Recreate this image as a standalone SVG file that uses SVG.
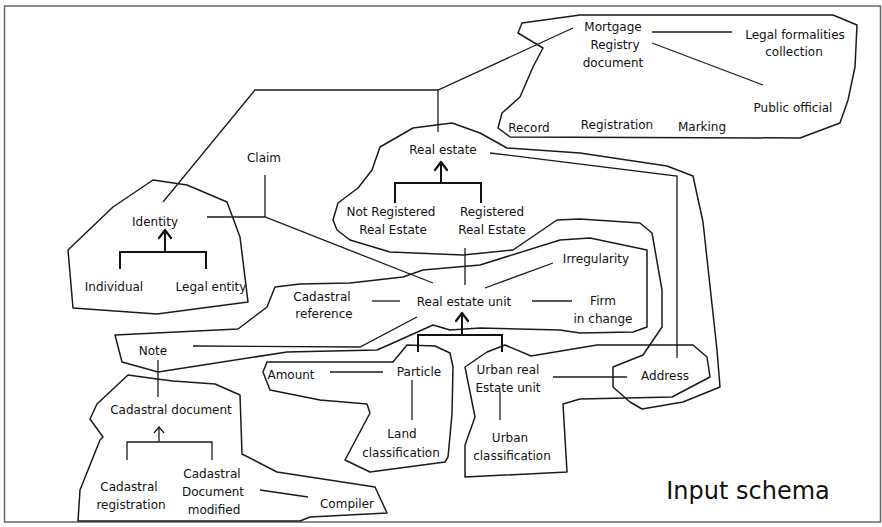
<svg xmlns="http://www.w3.org/2000/svg" width="882" height="527" viewBox="0 0 882 527">
  <style>
    .t { font-family: "DejaVu Sans", "Liberation Sans", sans-serif; font-size: 12px; fill: #111; text-anchor: middle; }
    .big { font-size: 24px; }
    .area { fill: none; stroke: #1a1a1a; stroke-width: 1.5; stroke-linejoin: round; }
    .ln { fill: none; stroke: #1a1a1a; stroke-width: 1.3; }
    .tree { fill: none; stroke: #111; stroke-width: 2; }
    .head { fill: none; stroke: #111; stroke-width: 2.2; stroke-linecap: round; stroke-linejoin: round; }
  </style>
  <rect x="0" y="0" width="882" height="527" fill="#fff"/>
  <rect x="4.5" y="6" width="876" height="516" fill="none" stroke="#666" stroke-width="1.5"/>

  <!-- grouping outlines -->
  <g id="areas">
    <polygon id="area-mortgage" class="area" points="522,23 518,33 543,48 533,67 520,97 502,113 498,128 510,137 800,138 840,123 848,100 855,67 857,25 833,15 580,15"/>
    <polygon id="area-real-estate" class="area" points="380,147 413,128 452,123 480,133 507,148 580,153 667,166 693,176 703,222 717,350 720,387 683,402 642,409 630,402 613,387 613,367 643,355 662,327 662,290 652,233 640,223 580,219 557,220 513,250 463,255 390,252 350,240 337,230 333,220 338,203 358,188 372,170"/>
    <polygon id="area-identity" class="area" points="153,180 187,185 227,202 240,237 248,302 157,314 73,308 68,250 113,207"/>
    <polygon id="area-unit" class="area" points="115,335 238,329 267,307 275,287 300,284 350,283 403,277 423,270 480,265 560,240 590,238 647,250 647,327 633,332 580,333 560,330 480,328 450,330 433,325 393,343 377,350 287,352 158,372 122,362"/>
    <polygon id="area-particle" class="area" points="267,362 393,362 407,345 435,346 450,353 453,367 452,414 448,457 445,462 370,472 345,460 370,413 367,404 320,400 270,390 263,372"/>
    <polygon id="area-urban" class="area" points="465,367 487,352 505,345 531,356 597,345 693,345 707,357 710,377 672,397 580,399 563,404 567,472 465,477 465,445 475,417"/>
    <polygon id="area-cadastral" class="area" points="128,375 157,379 173,381 215,384 240,395 242,454 277,472 375,487 387,513 310,517 300,521 78,521 80,490 100,440 103,437 90,419 97,404"/>
  </g>

  <!-- connectors -->
  <g id="connectors">
    <polyline class="ln" points="573,28 438,90 255,90 163,202"/>
    <line class="ln" x1="438" y1="90" x2="438" y2="132"/>
    <line class="ln" x1="652" y1="32" x2="732" y2="32"/>
    <line class="ln" x1="652" y1="43" x2="763" y2="85"/>
    <line class="ln" x1="265" y1="175" x2="265" y2="217"/>
    <polyline class="ln" points="207,217 265,217 433,283"/>
    <polyline class="ln" points="490,153 677,176 677,358"/>
    <line class="ln" x1="465" y1="248" x2="465" y2="285"/>
    <line class="ln" x1="485" y1="288" x2="553" y2="263"/>
    <line class="ln" x1="372" y1="301" x2="400" y2="301"/>
    <line class="ln" x1="532" y1="301" x2="572" y2="301"/>
    <polyline class="ln" points="193,346 360,347 417,317"/>
    <line class="ln" x1="330" y1="372" x2="383" y2="372"/>
    <line class="ln" x1="412" y1="380" x2="412" y2="420"/>
    <line class="ln" x1="500" y1="392" x2="500" y2="420"/>
    <line class="ln" x1="553" y1="377" x2="627" y2="377"/>
    <line class="ln" x1="158" y1="360" x2="158" y2="397"/>
    <line class="ln" x1="260" y1="490" x2="308" y2="497"/>

    <!-- generalisation trees -->
    <polyline class="tree" points="120,269 120,252 206,252 206,269"/>
    <line class="tree" x1="165" y1="252" x2="165" y2="231"/>
    <polyline class="head" points="159,238 165,230 171,238"/>

    <polyline class="tree" stroke-width="1.6" points="395,203 395,183 481,183 481,203"/>
    <line class="tree" x1="441" y1="183" x2="441" y2="163"/>
    <polyline class="head" points="435,170 441,162 447,170"/>

    <polyline class="tree" stroke-width="1.6" points="418,352 418,335 502,335 502,352"/>
    <line class="tree" x1="462" y1="335" x2="462" y2="314"/>
    <polyline class="head" points="456,321 462,313 468,321"/>

    <polyline class="ln" points="127,460 127,442 212,442 212,460"/>
    <line class="ln" x1="159" y1="442" x2="159" y2="428"/>
    <polyline class="ln" points="154,433 159,427 164,433"/>
  </g>

  <!-- nodes -->
  <g id="mortgage-registry-document"><text class="t" x="613" y="31">Mortgage</text><text class="t" x="615" y="49">Registry</text><text class="t" x="613" y="67">document</text></g>
  <g id="legal-formalities"><text class="t" x="795" y="39">Legal formalities</text><text class="t" x="794" y="56">collection</text></g>
  <g id="public-official"><text class="t" x="793" y="112">Public official</text></g>
  <g id="record"><text class="t" x="529" y="132">Record</text></g>
  <g id="registration"><text class="t" x="617" y="129">Registration</text></g>
  <g id="marking"><text class="t" x="702" y="131">Marking</text></g>
  <g id="claim"><text class="t" x="264" y="162">Claim</text></g>
  <g id="real-estate"><text class="t" x="443" y="154">Real estate</text></g>
  <g id="identity"><text class="t" x="155" y="226">Identity</text></g>
  <g id="not-registered"><text class="t" x="391" y="216">Not Registered</text><text class="t" x="393" y="234">Real Estate</text></g>
  <g id="registered"><text class="t" x="492" y="216">Registered</text><text class="t" x="492" y="234">Real Estate</text></g>
  <g id="individual"><text class="t" x="114" y="291">Individual</text></g>
  <g id="legal-entity"><text class="t" x="211" y="291">Legal entity</text></g>
  <g id="irregularity"><text class="t" x="596" y="263">Irregularity</text></g>
  <g id="cadastral-reference"><text class="t" x="322" y="301">Cadastral</text><text class="t" x="324" y="318">reference</text></g>
  <g id="real-estate-unit"><text class="t" x="464" y="306">Real estate unit</text></g>
  <g id="firm"><text class="t" x="603" y="305">Firm</text><text class="t" x="603" y="323">in change</text></g>
  <g id="note"><text class="t" x="153" y="355">Note</text></g>
  <g id="amount"><text class="t" x="291" y="379">Amount</text></g>
  <g id="particle"><text class="t" x="419" y="376">Particle</text></g>
  <g id="urban-unit"><text class="t" x="508" y="374">Urban real</text><text class="t" x="508" y="392">Estate unit</text></g>
  <g id="address"><text class="t" x="665" y="380">Address</text></g>
  <g id="land-classification"><text class="t" x="402" y="438">Land</text><text class="t" x="401" y="457">classification</text></g>
  <g id="urban-classification"><text class="t" x="510" y="442">Urban</text><text class="t" x="512" y="460">classification</text></g>
  <g id="cadastral-document"><text class="t" x="171" y="414">Cadastral document</text></g>
  <g id="cadastral-registration"><text class="t" x="129" y="491">Cadastral</text><text class="t" x="131" y="509">registration</text></g>
  <g id="cadastral-modified"><text class="t" x="212" y="478">Cadastral</text><text class="t" x="213" y="496">Document</text><text class="t" x="214" y="514">modified</text></g>
  <g id="compiler"><text class="t" x="347" y="508">Compiler</text></g>
  <g id="title"><text class="t big" x="748" y="499">Input schema</text></g>
</svg>
